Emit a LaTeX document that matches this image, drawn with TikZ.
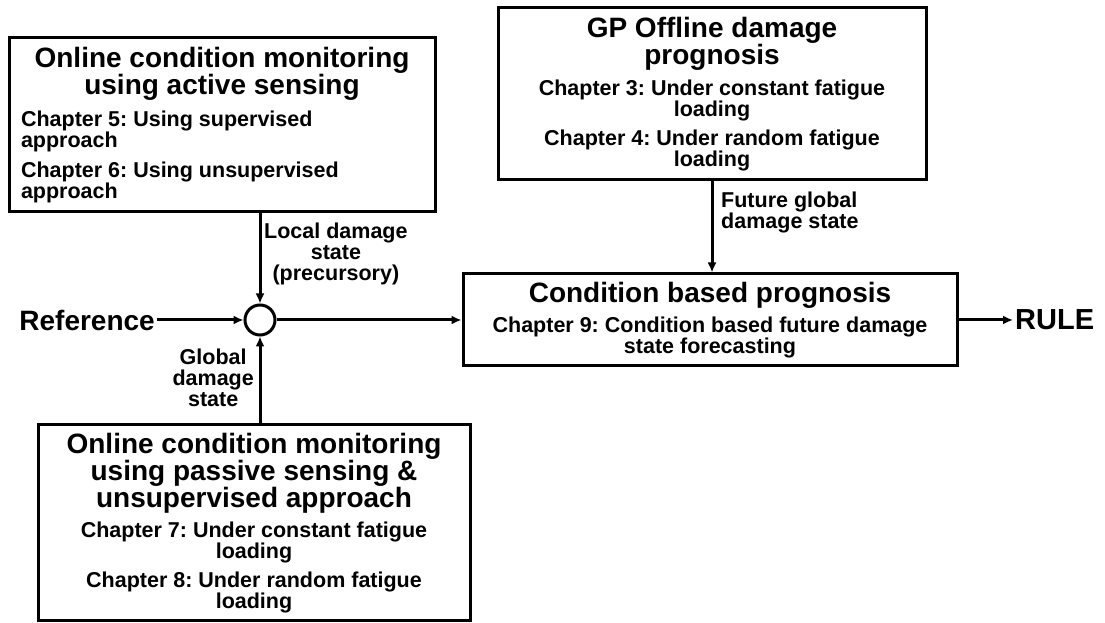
\documentclass[tikz,border=0pt]{standalone}
\usepackage{fontspec}
\setmainfont{Liberation Sans}
\usetikzlibrary{arrows.meta}
\frenchspacing

\newcommand{\ttlfont}{\fontsize{28}{27}\selectfont\bfseries\spaceskip=0pt\xspaceskip=0pt}
\newcommand{\chpfont}{\fontsize{21.5}{21}\selectfont\bfseries\spaceskip=0pt\xspaceskip=0pt}

\tikzset{
  box/.style={draw, line width=3pt, inner xsep=12pt, inner ysep=3pt},
  lbl/.style={font=\chpfont, inner sep=1pt},
  big/.style={font=\ttlfont, inner sep=2pt}
}

\begin{document}
\begin{tikzpicture}[x=1pt, y=1pt, >={Latex[length=10pt,width=9pt]}]
    \useasboundingbox (0,0) rectangle (1105,623);

    \node[box, text width=402pt, minimum height=174pt] (act) at (222,498) {\centering
      {\ttlfont Online condition monitoring\\using active sensing\par}\vspace{9pt}
      \raggedright\chpfont Chapter 5: Using supervised\\approach\par\vspace{9pt}
      Chapter 6: Using unsupervised\\approach\par};
    \node[box, text width=404pt, minimum height=172pt] (gp) at (712,529) {\centering
      {\ttlfont GP Offline damage\\prognosis\par}\vspace{8pt}
      \chpfont Chapter 3: Under constant fatigue\\loading\par\vspace{8pt}
      Chapter 4: Under random fatigue\\loading\par};
    \node[box, text width=470pt, minimum height=92pt] (cbp) at (710,303) {\centering
      {\ttlfont Condition based prognosis\par}\vspace{8pt}
      \chpfont Chapter 9: Condition based future damage\\state forecasting\par};
    \node[box, text width=408pt, minimum height=196pt] (pas) at (254,100) {\centering
      {\ttlfont Online condition monitoring\\using passive sensing \&\\unsupervised approach\par}\vspace{8pt}
      \chpfont Chapter 7: Under constant fatigue\\loading\par\vspace{8pt}
      Chapter 8: Under random fatigue\\loading\par};

    \node[circle, draw, line width=3pt, minimum size=30pt, inner sep=0pt] (sum) at (260,303) {};
    \node[big, anchor=east] (ref) at (157,303) {Reference};
    \node[big, anchor=west, font=\fontsize{29}{29}\selectfont\bfseries] (rul) at (1013,303) {RULE};

    \node[lbl, align=center, anchor=west] (loc) at (263,369) {Local damage\\state\\(precursory)};
    \node[lbl, align=center, anchor=east] (glb) at (255,245) {Global\\damage\\state};
    \node[lbl, align=left, anchor=west] (fut) at (720,411) {Future global\\damage state};

    \draw[->, line width=3pt] (act.south -| sum) -- (sum.north);
    \draw[->, line width=3pt] (pas.north -| sum) -- (sum.south);
    \draw[->, line width=3pt] (ref) -- (sum);
    \draw[->, line width=3pt] (sum) -- (cbp.west);
    \draw[->, line width=3pt] (gp.south) -- (gp.south |- cbp.north);
    \draw[->, line width=3pt] (cbp.east) -- (rul.west);
\end{tikzpicture}
\end{document}
